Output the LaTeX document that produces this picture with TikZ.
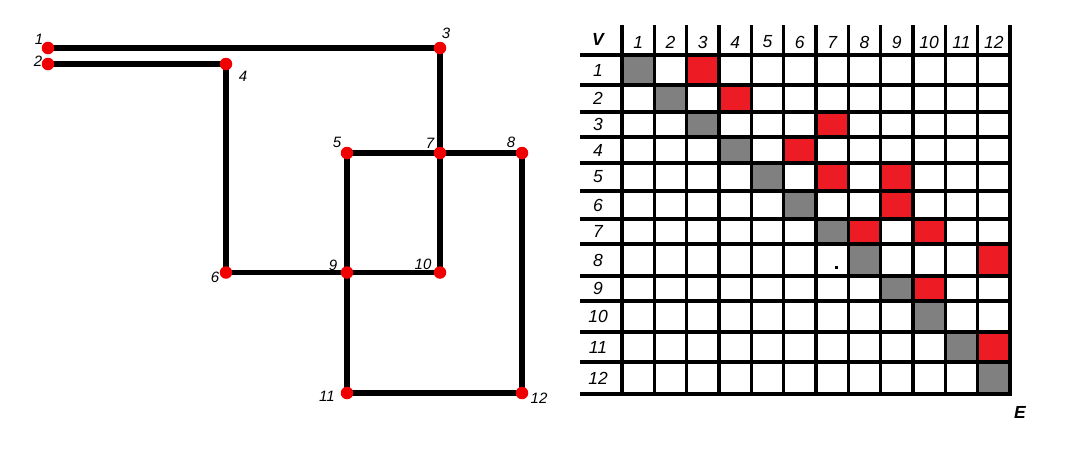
\documentclass[tikz,border=0pt]{standalone}
\usepackage{fontspec}
\setmainfont{Liberation Sans}
\definecolor{cellred}{RGB}{237,28,36}
\definecolor{cellgray}{RGB}{128,128,128}
\definecolor{dotred}{RGB}{240,0,0}

\begin{document}
\begin{tikzpicture}[x=1pt,y=-1pt]
	\useasboundingbox (0,0) rectangle (1080,459);

	% graph
	\coordinate (p1) at (48,48);
	\coordinate (p2) at (48,64);
	\coordinate (p3) at (440,48);
	\coordinate (p4) at (226,64);
	\coordinate (p5) at (347,153);
	\coordinate (p6) at (226,272.5);
	\coordinate (p7) at (440,153);
	\coordinate (p8) at (522,153);
	\coordinate (p9) at (347,272.5);
	\coordinate (p10) at (440,272.5);
	\coordinate (p11) at (347,393);
	\coordinate (p12) at (522,393);

	\begin{scope}[every edge/.style={draw=black, line width=5.5pt}]
		\path (p1) edge (p3);
		\path (p2) edge (p4);
		\path (p3) edge (p7);
		\path (p4) edge (p6);
		\path (p5) edge (p7);
		\path (p7) edge (p8);
		\path (p5) edge (p9);
		\path (p6) edge (p9);
		\path (p9) edge (p10);
		\path (p7) edge (p10);
		\path (p8) edge (p12);
		\path (p9) edge (p11);
		\path (p11) edge (p12);
	\end{scope}

	\begin{scope}[every node/.style={circle,fill=dotred,inner sep=0pt,minimum size=12.5pt}]
		\foreach \i in {1,...,12}
			\node (v\i) at (p\i) {};
	\end{scope}

	\begin{scope}[every node/.style={font=\fontsize{15}{15}\selectfont\itshape,inner sep=0pt}]
		\node (t1) at (39,39) {1};
		\node (t2) at (38,61) {2};
		\node (t3) at (446,33) {3};
		\node (t4) at (243,76) {4};
		\node (t5) at (337,142) {5};
		\node (t6) at (215,277) {6};
		\node (t7) at (430,143) {7};
		\node (t8) at (511,142) {8};
		\node (t9) at (333,265) {9};
		\node (t10) at (423,264) {10};
		\node (t11) at (327,396) {11};
		\node (t12) at (539,398) {12};
	\end{scope}

	% matrix
	\def\rowy{{55,85,112,137,163,191,219,244,276,301,332,362,394}}

	\foreach \r in {1,...,12} {
		\pgfmathsetmacro\ya{\rowy[\r-1]}
		\pgfmathsetmacro\yb{\rowy[\r]}
		\fill[cellgray] ({622+32.33*(\r-1)},\ya) rectangle ({622+32.33*\r},\yb);
	}
	\foreach \r/\c in {1/3,2/4,3/7,4/6,5/7,5/9,6/9,7/8,7/10,8/12,9/10,11/12} {
		\pgfmathsetmacro\ya{\rowy[\r-1]}
		\pgfmathsetmacro\yb{\rowy[\r]}
		\fill[cellred] ({622+32.33*(\c-1)},\ya) rectangle ({622+32.33*\c},\yb);
	}
	\fill (834.5,265.5) rectangle (837.5,268.5);

	\begin{scope}[line width=3.3pt]
		\foreach \i in {0,...,12} {
			\pgfmathsetmacro\yy{\rowy[\i]}
			\draw (580,\yy) -- (1010,\yy);
			\draw ({622+32.33*\i},25) -- ({622+32.33*\i},395.5);
		}
	\end{scope}

	\begin{scope}[every node/.style={font=\fontsize{17.5}{17.5}\selectfont\itshape,inner sep=0pt}]
		\node (V) at (598,39) {\bfseries V};
		\node (E) at (1020,412) {\bfseries E};
		\foreach \c in {1,...,12}
			\node (c\c) at ({638.2+32.33*(\c-1)},42) {\c};
		\foreach \r in {1,...,12} {
			\pgfmathsetmacro\ya{\rowy[\r-1]}
			\pgfmathsetmacro\yb{\rowy[\r]}
			\pgfmathsetmacro\ym{(\ya+\yb)/2}
			\node (r\r) at (598,\ym) {\r};
		}
	\end{scope}

\end{tikzpicture}
\end{document}
